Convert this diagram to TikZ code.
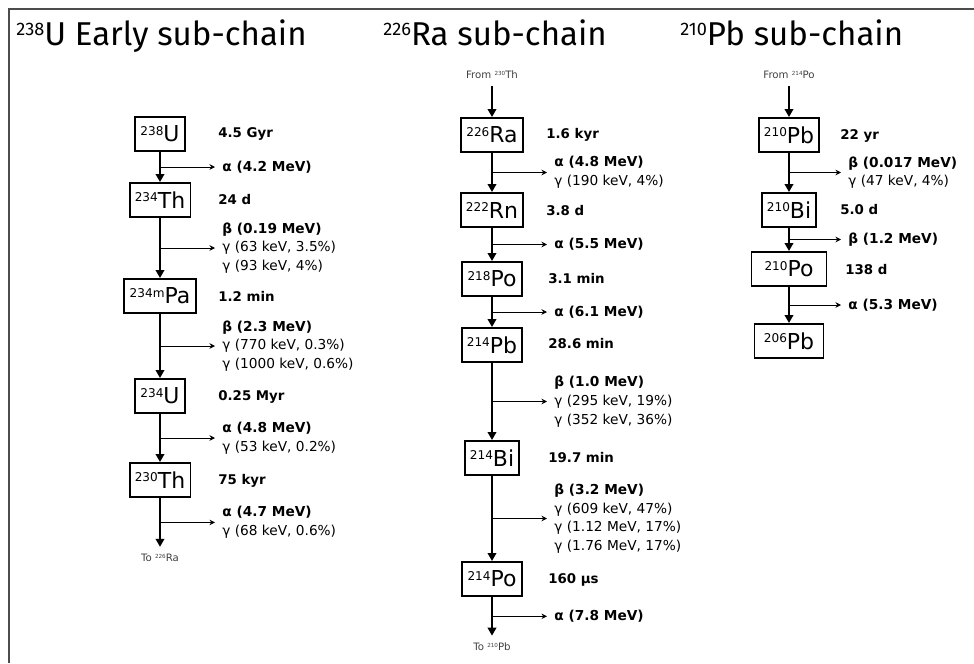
\documentclass[tikz,border=0pt]{standalone}
\usepackage{fontspec}
\setmainfont{DejaVu Sans}
\newfontfamily\titlefont{Fira Sans}
\usetikzlibrary{arrows.meta, calc}
\newcommand{\iso}[2]{\raisebox{0.3em}{\scalebox{0.55}{#1}}#2}
\tikzset{
    nuclide/.style={rectangle, draw=black, line width=1.1pt, inner xsep=3pt, minimum height=0.68cm, font=\fontsize{12.5}{14}\selectfont},
    halflife/.style={anchor=west, inner sep=0pt, font=\fontsize{7.6}{9}\selectfont\bfseries},
    emission/.style={anchor=west, inner xsep=4pt, align=left, font=\fontsize{7.8}{10.6}\selectfont},
    chainlink/.style={line width=1.1pt, -{Triangle[length=1.6mm, width=1.7mm]}},
    branch/.style={line width=0.5pt, -{Stealth[length=1.1mm, width=1.1mm]}},
    linknote/.style={inner xsep=0pt, inner ysep=4pt, text=black!75, font=\fontsize{5.8}{7}\selectfont},
    heading/.style={anchor=base west, inner sep=0pt, font=\titlefont\fontsize{18.8}{22}\selectfont}
}
\begin{document}
\begin{tikzpicture}[x=0.02cm, y=-0.02cm]
    \useasboundingbox (0,0) rectangle (974,663);
    % frame
    \draw[black!70, line width=1pt] (974,9) -- (9,9) -- (9,663);

    % headings
    \node[heading] (headU) at (16,45) {\iso{238}{U} Early sub-chain};
    \node[heading] (headRa) at (383,45) {\iso{226}{Ra} sub-chain};
    \node[heading] (headPb) at (680,45) {\iso{210}{Pb} sub-chain};

    % 238U early sub-chain
    \node[nuclide] (U238) at (160,134) {\iso{238}{U}};
    \node[nuclide] (Th234) at (160,200) {\iso{234}{Th}};
    \node[nuclide] (Pa234) at (160,296) {\iso{234m}{Pa}};
    \node[nuclide] (U234) at (160,396) {\iso{234}{U}};
    \node[nuclide] (Th230) at (160,480) {\iso{230}{Th}};
    \node[linknote] (toRa) at (160,558) {To \iso{226}{Ra}};

    \node[halflife] at (218,134) {4.5 Gyr};
    \node[halflife] at (218,200) {24 d};
    \node[halflife] at (218,296) {1.2 min};
    \node[halflife] at (218,397) {0.25 Myr};
    \node[halflife] at (218,481) {75 kyr};

    \draw[chainlink] (U238) -- (Th234);
    \draw[chainlink] (Th234) -- (Pa234);
    \draw[chainlink] (Pa234) -- (U234);
    \draw[chainlink] (U234) -- (Th230);
    \draw[chainlink] (Th230) -- (toRa);

    \coordinate (bU238) at ($(U238.south)!0.5!(Th234.north)$);
    \coordinate (bTh234) at ($(Th234.south)!0.5!(Pa234.north)$);
    \coordinate (bPa234) at ($(Pa234.south)!0.5!(U234.north)$);
    \coordinate (bU234) at ($(U234.south)!0.5!(Th230.north)$);
    \coordinate (bTh230) at ($(Th230.south)!0.5!(toRa.north)$);

    \node[emission] (eU238) at ($(bU238)+(55,0)$) {\textbf{α (4.2 MeV)}};
    \node[emission] (eTh234) at ($(bTh234)+(55,0)$) {\textbf{β (0.19 MeV)}\\γ (63 keV, 3.5\%)\\γ (93 keV, 4\%)};
    \node[emission] (ePa234) at ($(bPa234)+(55,0)$) {\textbf{β (2.3 MeV)}\\γ (770 keV, 0.3\%)\\γ (1000 keV, 0.6\%)};
    \node[emission] (eU234) at ($(bU234)+(55,0)$) {\textbf{α (4.8 MeV)}\\γ (53 keV, 0.2\%)};
    \node[emission] (eTh230) at ($(bTh230)+(55,0)$) {\textbf{α (4.7 MeV)}\\γ (68 keV, 0.6\%)};

    \draw[branch] (bU238) -- (eU238.west);
    \draw[branch] (bTh234) -- (eTh234.west);
    \draw[branch] (bPa234) -- (ePa234.west);
    \draw[branch] (bU234) -- (eU234.west);
    \draw[branch] (bTh230) -- (eTh230.west);

    % 226Ra sub-chain
    \node[linknote] (fromTh) at (492,75) {From \iso{230}{Th}};
    \node[nuclide] (Ra226) at (492,135) {\iso{226}{Ra}};
    \node[nuclide] (Rn222) at (492,210) {\iso{222}{Rn}};
    \node[nuclide] (Po218) at (492,279) {\iso{218}{Po}};
    \node[nuclide] (Pb214) at (492,345) {\iso{214}{Pb}};
    \node[nuclide] (Bi214) at (492,458) {\iso{214}{Bi}};
    \node[nuclide] (Po214) at (492,579) {\iso{214}{Po}};
    \node[linknote] (toPb) at (492,647) {To \iso{210}{Pb}};

    \node[halflife] at (546,135) {1.6 kyr};
    \node[halflife] at (546,211) {3.8 d};
    \node[halflife] at (548,279) {3.1 min};
    \node[halflife] at (548,344) {28.6 min};
    \node[halflife] at (548,458) {19.7 min};
    \node[halflife] at (548,580) {160 μs};

    \draw[chainlink] (fromTh) -- (Ra226);
    \draw[chainlink] (Ra226) -- (Rn222);
    \draw[chainlink] (Rn222) -- (Po218);
    \draw[chainlink] (Po218) -- (Pb214);
    \draw[chainlink] (Pb214) -- (Bi214);
    \draw[chainlink] (Bi214) -- (Po214);
    \draw[chainlink] (Po214) -- (toPb);

    \coordinate (bRa226) at ($(Ra226.south)!0.5!(Rn222.north)$);
    \coordinate (bRn222) at ($(Rn222.south)!0.5!(Po218.north)$);
    \coordinate (bPo218) at ($(Po218.south)!0.5!(Pb214.north)$);
    \coordinate (bPb214) at ($(Pb214.south)!0.5!(Bi214.north)$);
    \coordinate (bBi214) at ($(Bi214.south)!0.5!(Po214.north)$);
    \coordinate (bPo214) at ($(Po214.south)!0.5!(toPb.north)$);

    \node[emission] (eRa226) at ($(bRa226)+(55,0)$) {\textbf{α (4.8 MeV)}\\γ (190 keV, 4\%)};
    \node[emission] (eRn222) at ($(bRn222)+(55,0)$) {\textbf{α (5.5 MeV)}};
    \node[emission] (ePo218) at ($(bPo218)+(55,0)$) {\textbf{α (6.1 MeV)}};
    \node[emission] (ePb214) at ($(bPb214)+(55,0)$) {\textbf{β (1.0 MeV)}\\γ (295 keV, 19\%)\\γ (352 keV, 36\%)};
    \node[emission] (eBi214) at ($(bBi214)+(55,0)$) {\textbf{β (3.2 MeV)}\\γ (609 keV, 47\%)\\γ (1.12 MeV, 17\%)\\γ (1.76 MeV, 17\%)};
    \node[emission] (ePo214) at ($(bPo214)+(55,0)$) {\textbf{α (7.8 MeV)}};

    \draw[branch] (bRa226) -- (eRa226.west);
    \draw[branch] (bRn222) -- (eRn222.west);
    \draw[branch] (bPo218) -- (ePo218.west);
    \draw[branch] (bPb214) -- (ePb214.west);
    \draw[branch] (bBi214) -- (eBi214.west);
    \draw[branch] (bPo214) -- (ePo214.west);

    % 210Pb sub-chain
    \node[linknote] (fromPo) at (789,75) {From \iso{214}{Po}};
    \node[nuclide] (Pb210) at (789,135) {\iso{210}{Pb}};
    \node[nuclide] (Bi210) at (789,210) {\iso{210}{Bi}};
    \node[nuclide, minimum width=1.5cm] (Po210) at (789,269) {\iso{210}{Po}};
    \node[nuclide, minimum width=1.38cm] (Pb206) at (789,341) {\iso{206}{Pb}};

    \node[halflife] at (840,136) {22 yr};
    \node[halflife] at (840,210) {5.0 d};
    \node[halflife] at (845,270) {138 d};

    \draw[chainlink] (fromPo) -- (Pb210);
    \draw[chainlink] (Pb210) -- (Bi210);
    \draw[chainlink] (Bi210) -- (Po210);
    \draw[chainlink] (Po210) -- (Pb206);

    \coordinate (bPb210) at ($(Pb210.south)!0.5!(Bi210.north)$);
    \coordinate (bBi210) at ($(Bi210.south)!0.5!(Po210.north)$);
    \coordinate (bPo210) at ($(Po210.south)!0.5!(Pb206.north)$);

    \node[emission] (ePb210) at ($(bPb210)+(52,0)$) {\textbf{β (0.017 MeV)}\\γ (47 keV, 4\%)};
    \node[emission] (eBi210) at ($(bBi210)+(52,0)$) {\textbf{β (1.2 MeV)}};
    \node[emission] (ePo210) at ($(bPo210)+(52,0)$) {\textbf{α (5.3 MeV)}};

    \draw[branch] (bPb210) -- (ePb210.west);
    \draw[branch] (bBi210) -- (eBi210.west);
    \draw[branch] (bPo210) -- (ePo210.west);
\end{tikzpicture}
\end{document}
